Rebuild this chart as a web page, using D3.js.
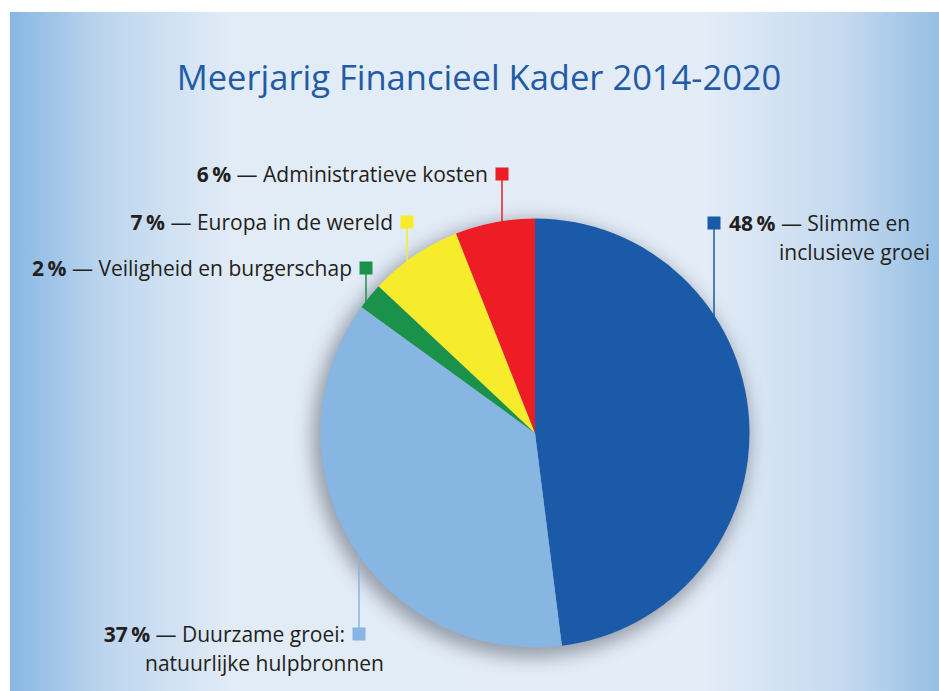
<!DOCTYPE html>
<html>
<head>
  <meta charset="utf-8">
  <title>Meerjarig Financieel Kader 2014-2020</title>
  <script src="https://cdn.jsdelivr.net/npm/d3@7"></script>
  <style>
    html, body { margin: 0; padding: 0; background: #fff; }
    svg { display: block; }
    .lbl { font-family: "Open Sans", sans-serif; font-size: 21px; fill: #231f20; }
    .lbl .pct { font-weight: bold; }
    .title { font-family: "Open Sans", sans-serif; font-size: 34.5px; fill: #1f5ba6; }
  </style>
</head>
<body>
  <svg class="chart" width="939" height="691"></svg>
  <script>
    // gegevens
    var categories = ["Slimme en inclusieve groei", "Duurzame groei: natuurlijke hulpbronnen",
      "Veiligheid en burgerschap", "Europa in de wereld", "Administratieve kosten"];
    var values = [48, 37, 2, 7, 6];
    var labelLines = [
      ["Slimme en", "inclusieve groei"],
      ["Duurzame groei:", "natuurlijke hulpbronnen"],
      ["Veiligheid en burgerschap"],
      ["Europa in de wereld"],
      ["Administratieve kosten"]
    ];
    var title = "Meerjarig Financieel Kader 2014-2020";

    var colors = ["#1b5aa8", "#86b6e1", "#1b924a", "#f6ec2b", "#ee1d25"];

    // plaats van de labels (vierkantje), links/rechts van de taart
    var labelPos = [
      { x: 714, y: 223, side: "right", edge: "top", x2: 930 },
      { x: 359, y: 634, side: "left", edge: "bottom", x2: 384 },
      { x: 366, y: 268, side: "left", edge: "top" },
      { x: 407, y: 222, side: "left", edge: "top" },
      { x: 502, y: 174, side: "left", edge: "top" }
    ];

    var width = 939, height = 691;
    var cx = 535, cy = 433, radius = 214.5;

    var svg = d3.select(".chart");
    var defs = svg.append("defs");

    var bg = defs.append("linearGradient").attr("id", "bg").attr("x1", 0).attr("x2", 1).attr("y1", 0).attr("y2", 0);
    [[0, "#88b7e2"], [0.1, "#bcd5ee"], [0.24, "#e2ecf7"], [0.75, "#e3ecf7"], [0.9, "#c4d9ef"], [1, "#96bfe4"]]
      .forEach(s => bg.append("stop").attr("offset", s[0]).attr("stop-color", s[1]));

    var blur = defs.append("filter").attr("id", "shadow")
      .attr("x", "-20%").attr("y", "-20%").attr("width", "140%").attr("height", "140%");
    blur.append("feGaussianBlur").attr("stdDeviation", 9);

    svg.append("rect")
      .attr("x", 10).attr("y", 12)
      .attr("width", width - 10).attr("height", height - 12)
      .attr("fill", "url(#bg)");

    svg.append("text")
      .attr("class", "title")
      .attr("x", 479).attr("y", 90)
      .attr("text-anchor", "middle")
      .text(title);

    // schaduw
    svg.append("circle")
      .attr("cx", cx - 4).attr("cy", cy + 6)
      .attr("r", radius + 4)
      .attr("fill", "#7d8390")
      .attr("opacity", 0.75)
      .attr("filter", "url(#shadow)");

    var pie = d3.pie().sort(null).value(d => d);
    var arc = d3.arc().innerRadius(0).outerRadius(radius);
    var arcs = pie(values);

    var g = svg.append("g").attr("transform", `translate(${cx},${cy})`);
    g.selectAll("path.slice")
      .data(arcs)
      .enter()
      .append("path")
      .classed("slice", true)
      .attr("d", arc)
      .attr("fill", (d, i) => colors[i]);

    // lijntjes naar de rand
    var edgeY = function (p) {
      var dx = p.x - cx;
      var h = Math.sqrt(radius * radius - dx * dx);
      return p.edge === "top" ? cy - h : cy + h;
    };

    var labels = svg.selectAll(".label")
      .data(arcs)
      .enter()
      .append("g")
      .classed("label", true);

    labels.append("line")
      .attr("x1", (d, i) => labelPos[i].x)
      .attr("x2", (d, i) => labelPos[i].x)
      .attr("y1", (d, i) => labelPos[i].y)
      .attr("y2", (d, i) => edgeY(labelPos[i]) + (labelPos[i].edge === "top" ? 2 : -2))
      .attr("stroke", (d, i) => colors[i])
      .attr("stroke-width", 1.5);

    labels.append("rect")
      .attr("x", (d, i) => labelPos[i].x - 6.5)
      .attr("y", (d, i) => labelPos[i].y - 6.5)
      .attr("width", 13).attr("height", 13)
      .attr("fill", (d, i) => colors[i]);

    labels.each(function (d, i) {
      var p = labelPos[i];
      var right = p.side === "right";
      var t = d3.select(this).append("text")
        .attr("class", "lbl")
        .attr("text-anchor", right ? "start" : "end");
      var x0 = right ? p.x + 15 : p.x - 14;
      var first = t.append("tspan").attr("x", x0).attr("y", p.y + 7.5);
      first.append("tspan").attr("class", "pct").text(values[i] + "\u2009%");
      first.append("tspan").text(" \u2014 " + labelLines[i][0]);
      if (labelLines[i].length > 1) {
        t.append("tspan")
          .attr("x", p.x2)
          .attr("y", p.y + 36.5)
          .attr("text-anchor", "end")
          .text(labelLines[i][1]);
      }
    });
  </script>
</body>
</html>
